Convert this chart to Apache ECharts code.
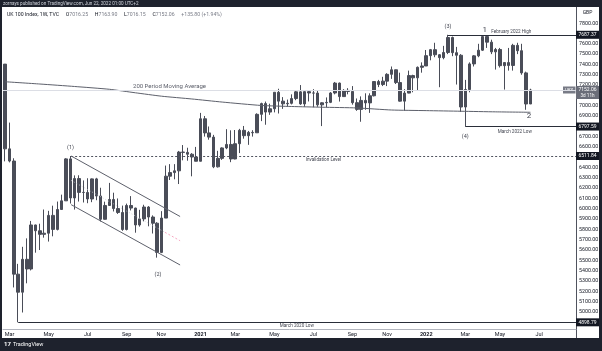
<!DOCTYPE html>
<html>
<head>
<meta charset="utf-8">
<script src="https://cdn.jsdelivr.net/npm/echarts@6/dist/echarts.min.js"></script>
<style>
html, body { margin: 0; padding: 0; background: #fff; }
#chart { width: 602px; height: 351px; }
</style>
</head>
<body>
<div id="chart"></div>
<script>
// weekly bars, first bar = week of 24 Feb 2020
var slotCount = 132;
var opens = [7403, 6581, 6463, 5366, 5191, 5510, 5416, 5843, 5787, 5752, 5763, 5936, 5800, 5993, 6077, 6484, 6105, 6293, 6159, 6158,
    6095, 6290, 6124, 5898, 6032, 6090, 6002, 5964, 5799, 6032, 6007, 5843, 5902, 6017, 5920, 5860, 5577, 5910, 6316, 6351,
    6368, 6550, 6547, 6529, 6502, 6461, 6873, 6736, 6695, 6407, 6489, 6590, 6624, 6483, 6631, 6761, 6709, 6741, 6737, 6916,
    7020, 6938, 6970, 7130, 7044, 7018, 7023, 7069, 7134, 7017, 7136, 7123, 7122, 7008, 7028, 7032, 7123, 7219, 7088, 7148,
    7138, 7029, 6964, 7051, 7027, 7096, 7234, 7205, 7238, 7304, 7348, 7224, 7044, 7122, 7292, 7270, 7372, 7385, 7485, 7543,
    7494, 7466, 7516, 7661, 7514, 7489, 6987, 7156, 7405, 7483, 7538, 7670, 7616, 7522, 7545, 7388, 7418, 7390, 7585, 7533,
    7318, 7016.25];
var highs = [7403, 6836, 6490, 5466, 5631, 5713, 5882, 5846, 5855, 5993, 5980, 6030, 6070, 6137, 6491, 6511.84, 6324, 6325, 6275, 6296,
    6294, 6300, 6204, 6069, 6251, 6156, 6100, 6031, 6050, 6123, 6010, 5990, 6039, 6026, 5936, 5870, 5977, 6419, 6433, 6433,
    6561, 6618, 6592, 6540, 6600, 6930, 6900, 6798, 6717, 6562, 6596, 6772, 6761, 6764, 6775, 6803, 6755, 6762, 6926, 7029,
    7040, 7019, 7130, 7164, 7083, 7059, 7110, 7150, 7200, 7139, 7148, 7160, 7150, 7033, 7080, 7132, 7230, 7224, 7160, 7170,
    7190, 7070, 7090, 7120, 7120, 7235, 7250, 7280, 7315, 7380, 7350, 7320, 7160, 7340, 7300, 7380, 7420, 7540, 7550, 7610,
    7500, 7580, 7687.37, 7670, 7570, 7500, 7250, 7420, 7490, 7600, 7675, 7680, 7640, 7560, 7560, 7420, 7560, 7600, 7610, 7600,
    7330, 7163.90];
var lows = [6460, 6450, 5237, 4898.79, 4994, 5277, 5402, 5574, 5600, 5720, 5682, 5733, 5790, 5990, 6077, 6051, 5992, 6070, 6061, 6054,
    6064, 6083, 5877, 5895, 6030, 5974, 5950, 5786, 5790, 5984, 5768, 5827, 5878, 5830, 5760, 5526, 5570, 5910, 6279, 6286,
    6240, 6470, 6466, 6315, 6460, 6460, 6700, 6670, 6394, 6400, 6474, 6578, 6452, 6480, 6540, 6680, 6620, 6700, 6737, 6850,
    6815, 6911, 6935, 6924, 6969, 6990, 7012, 7053, 7008, 6990, 7041, 6985, 6989, 6802, 6985, 7025, 7110, 7040, 7086, 7110,
    7010, 6950, 6844, 6960, 6930, 7090, 7180, 7190, 7190, 7260, 7210, 7040, 6951, 7120, 7130, 7150, 7320, 7385, 7440, 7470,
    7179, 7450, 7500, 7480, 7205, 6940, 6797.59, 7130, 7380, 7470, 7530, 7560, 7500, 7350, 7370, 7156, 7340, 7340, 7500, 7300,
    6960, 7016.15];
var closes = [6581, 6463, 5366, 5191, 5510, 5416, 5843, 5787, 5752, 5763, 5936, 5800, 5993, 6077, 6484, 6105, 6293, 6159, 6158, 6095,
    6290, 6124, 5898, 6032, 6090, 6002, 5964, 5799, 6032, 6007, 5843, 5902, 6017, 5920, 5860, 5577, 5910, 6316, 6351, 6368,
    6550, 6547, 6529, 6502, 6461, 6873, 6736, 6695, 6407, 6489, 6590, 6624, 6483, 6631, 6761, 6709, 6741, 6737, 6916, 7020,
    6938, 6970, 7130, 7044, 7018, 7023, 7069, 7134, 7017, 7136, 7123, 7122, 7008, 7028, 7032, 7123, 7219, 7088, 7148, 7138,
    7029, 6964, 7051, 7027, 7096, 7234, 7205, 7238, 7304, 7348, 7224, 7044, 7122, 7292, 7270, 7372, 7385, 7485, 7543, 7494,
    7466, 7516, 7661, 7514, 7489, 6987, 7156, 7405, 7483, 7538, 7670, 7616, 7522, 7545, 7388, 7418, 7390, 7585, 7533, 7318,
    7016.25, 7152.06];

// 200 period moving average, read at some bars: [bar, value]
var maPoints = [[0, 7232], [8, 7210], [16, 7186], [24, 7159], [30, 7125], [36, 7092], [43, 7065], [50, 7035], [59, 7002],
    [66, 6992], [73, 6985], [81, 6978], [89, 6958], [97, 6952], [105, 6946], [113, 6940], [121, 6936]];

var invalidation = 6511.84;
var febHigh = 7687.37;
var marLow22 = 6797.59;
var marLow20 = 4898.79;
var lastClose = 7152.06;
var hiddenTicks = [7900, 7700, 7100, 6800, 6500, 4900];
var monthNames = ['Jan', 'Feb', 'Mar', 'Apr', 'May', 'Jun', 'Jul', 'Aug', 'Sep', 'Oct', 'Nov', 'Dec'];

var weeks = [];
var t0 = Date.UTC(2020, 1, 24);
for (var i = 0; i < slotCount; i++) {
    weeks.push(new Date(t0 + i * 7 * 86400000).toISOString().slice(0, 10));
}
var candles = [];
for (var i = 0; i < opens.length; i++) {
    candles.push([opens[i], closes[i], lows[i], highs[i]]);
}

var font = 'Roboto, sans-serif';
var candleColor = '#4a4d58';
var lineDark = '#2a2e39';

function seg(a, b, style) {
    return [{ coord: a, lineStyle: style }, { coord: b }];
}

var chart = echarts.init(document.getElementById('chart'));
chart.setOption({
    animation: false,
    backgroundColor: '#fff',
    grid: { left: 3, right: 26, top: 7, bottom: 22 },
    xAxis: [{
        type: 'category',
        data: weeks,
        boundaryGap: true,
        axisLine: { lineStyle: { color: '#b2b5be', width: 1 } },
        axisTick: { show: false },
        splitLine: { show: false },
        axisLabel: {
            margin: 3,
            fontSize: 5.5,
            fontFamily: font,
            color: '#131722',
            interval: function(index, value) {
                if (index === 0) return false;
                var m = +value.slice(5, 7);
                var pm = +weeks[index - 1].slice(5, 7);
                return m !== pm && m % 2 === 1;
            },
            formatter: function(value) {
                var m = +value.slice(5, 7);
                if (m === 1) return '{y|' + value.slice(0, 4) + '}';
                return monthNames[m - 1];
            },
            rich: { y: { fontWeight: 'bold', fontSize: 5.5, fontFamily: font, color: '#131722' } }
        }
    }, {
        type: 'value',
        show: false,
        min: -0.5,
        max: slotCount - 0.5
    }],
    yAxis: {
        type: 'value',
        position: 'right',
        min: 4834,
        max: 7957,
        splitNumber: 31,
        axisLine: { show: false },
        axisTick: { show: false },
        splitLine: { show: false },
        axisLabel: {
            showMinLabel: false,
            showMaxLabel: false,
            margin: 3,
            fontSize: 5.3,
            fontFamily: font,
            color: '#131722',
            formatter: function(v) {
                if (hiddenTicks.indexOf(Math.round(v)) >= 0) return '';
                return v.toFixed(2);
            }
        }
    },
    series: [{
        name: 'UKX',
        type: 'candlestick',
        data: candles,
        barWidth: 3,
        itemStyle: {
            color: candleColor,
            color0: candleColor,
            borderColor: candleColor,
            borderColor0: candleColor,
            borderWidth: 1
        }
    }, {
        name: 'MA200',
        type: 'line',
        xAxisIndex: 1,
        data: maPoints,
        smooth: 0.2,
        symbol: 'none',
        lineStyle: { color: '#5d606b', width: 1 },
        markLine: {
            silent: true,
            symbol: ['none', 'none'],
            label: { show: false },
            data: [
                { yAxis: lastClose, lineStyle: { color: '#dcdee5', width: 1, type: 'solid' } },
                seg([15.2, invalidation], [slotCount - 0.5, invalidation], { color: '#50535e', width: 1, type: [2, 2] }),
                seg([102, febHigh], [slotCount - 0.5, febHigh], { color: lineDark, width: 1, type: 'solid' }),
                seg([106, marLow22], [slotCount - 0.5, marLow22], { color: lineDark, width: 1, type: 'solid' }),
                seg([3, marLow20], [slotCount - 0.5, marLow20], { color: lineDark, width: 1, type: 'solid' }),
                seg([15.2, 6511.84], [40.3, 5925], { color: '#5d606b', width: 1, type: 'solid' }),
                seg([15.2, 6040], [40.3, 5455], { color: '#5d606b', width: 1, type: 'solid' }),
                seg([15.2, 6275], [36.8, 5772], { color: '#c8cad0', width: 0.8, type: [1, 2] }),
                seg([36.8, 5772], [40.3, 5690], { color: '#f48fb1', width: 0.8, type: [2, 2] })
            ]
        }
    }]
});

function px(i, p) {
    return chart.convertToPixel({ seriesIndex: 1 }, [i, p]);
}

function note(i, p, text, size, align, color) {
    var pt = px(i, p);
    return {
        type: 'text',
        silent: true,
        style: {
            x: pt[0], y: pt[1], text: text,
            fontSize: size, fontFamily: font,
            fill: color || '#434651',
            align: align || 'center', verticalAlign: 'middle'
        }
    };
}

function axisBox(p, text, bg) {
    var y = px(0, p)[1];
    return [{
        type: 'rect', silent: true,
        shape: { x: 576, y: y - 4, width: 23, height: 8 },
        style: { fill: bg }
    }, {
        type: 'text', silent: true,
        style: { x: 587.5, y: y, text: text, fontSize: 5, fontFamily: font, fill: '#fff', align: 'center', verticalAlign: 'middle' }
    }];
}

var yLast = px(0, lastClose)[1];
var g = [
    // frame
    { type: 'rect', silent: true, shape: { x: 0, y: 0, width: 602, height: 7 }, style: { fill: '#1e222d' } },
    { type: 'rect', silent: true, shape: { x: 0, y: 338, width: 602, height: 13 }, style: { fill: '#1e222d' } },
    { type: 'rect', silent: true, shape: { x: 0, y: 0, width: 2, height: 351 }, style: { fill: '#1e222d' } },
    { type: 'rect', silent: true, shape: { x: 599, y: 0, width: 3, height: 351 }, style: { fill: '#1e222d' } },
    { type: 'line', silent: true, shape: { x1: 576.5, y1: 7, x2: 576.5, y2: 338 }, style: { stroke: '#50535e', lineWidth: 1 } },
    {
        type: 'text', silent: true,
        style: { x: 3, y: 3.6, text: 'zornays published on TradingView.com, Jun 22, 2022 01:00 UTC+2', fontSize: 4.6, fontFamily: font, fill: '#d1d4dc', verticalAlign: 'middle' }
    },
    {
        type: 'text', silent: true,
        style: {
            x: 7, y: 14.5, verticalAlign: 'middle',
            text: '{t|UK 100 Index, 1W, TVC}  {k|O}{v|7016.25}  {k|H}{v|7163.90}  {k|L}{v|7016.15}  {k|C}{v|7152.06}  {v|+135.80 (+1.94%)}',
            rich: {
                t: { fontSize: 5.2, fontFamily: font, fill: '#131722' },
                k: { fontSize: 5.2, fontFamily: font, fill: '#131722' },
                v: { fontSize: 5.2, fontFamily: font, fill: '#787b86' }
            }
        }
    },
    { type: 'text', silent: true, style: { x: 587.5, y: 12.5, text: 'GBP', fontSize: 5, fontFamily: font, fill: '#131722', align: 'center', verticalAlign: 'middle' } },
    { type: 'text', silent: true, style: { x: 4, y: 344.5, text: '17', fontSize: 6, fontWeight: 'bold', fontFamily: font, fill: '#fff', verticalAlign: 'middle' } },
    { type: 'text', silent: true, style: { x: 13, y: 344.5, text: 'TradingView', fontSize: 5.5, fontFamily: font, fill: '#fff', verticalAlign: 'middle' } },
    // last price
    { type: 'rect', silent: true, shape: { x: 563, y: yLast - 3.5, width: 12.5, height: 7 }, style: { fill: '#787b86' } },
    { type: 'text', silent: true, style: { x: 569.2, y: yLast, text: 'UKX', fontSize: 4.3, fontFamily: font, fill: '#fff', align: 'center', verticalAlign: 'middle' } },
    { type: 'rect', silent: true, shape: { x: 576, y: yLast - 4, width: 23, height: 13 }, style: { fill: '#6a6d78' } },
    { type: 'text', silent: true, style: { x: 587.5, y: yLast, text: '7152.06', fontSize: 5, fontFamily: font, fill: '#fff', align: 'center', verticalAlign: 'middle' } },
    { type: 'text', silent: true, style: { x: 587.5, y: yLast + 5.5, text: '3d 11h', fontSize: 4.6, fontFamily: font, fill: '#fff', align: 'center', verticalAlign: 'middle' } },
    // drawing labels
    note(15.05, 6589, '(1)', 5.5),
    note(35.2, 5358, '(2)', 5.5),
    note(102, 7763, '(3)', 5.5),
    note(106, 6696, '(4)', 5.5),
    note(110.5, 7734, '1', 8),
    note(120.7, 6900, '2', 8),
    note(29.45, 7182, '200 Period Moving Average', 6, 'left', '#5d606b'),
    note(73.3, 6473, 'Invalidation Level', 4.6),
    note(116.6, 7714, 'February 2022 High', 4.6),
    note(117.4, 6750, 'March 2022 Low', 4.6),
    note(67.2, 4863, 'March 2020 Low', 4.6)
];
g = g.concat(axisBox(febHigh, '7687.37', '#131722'));
g = g.concat(axisBox(marLow22, '6797.59', '#131722'));
g = g.concat(axisBox(invalidation, '6511.84', '#131722'));
g = g.concat(axisBox(marLow20, '4898.79', '#131722'));
chart.setOption({ graphic: g });
</script>
</body>
</html>
